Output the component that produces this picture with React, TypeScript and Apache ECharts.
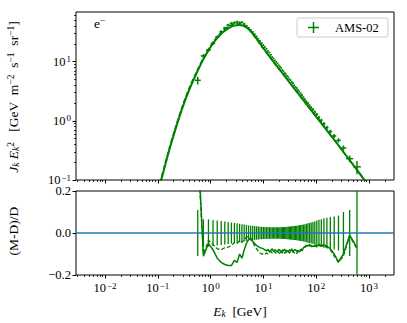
import React, { useEffect, useRef } from "react";
import * as echarts from "echarts";

// ---------- data ----------
// AMS-02 electron energy bins [GeV]
const binEdges = [0.5, 0.65, 0.82, 1.01, 1.22, 1.46, 1.72, 2.0, 2.31, 2.65, 3.0, 3.36, 3.73, 4.12, 4.54, 5.0, 5.49, 6.0, 6.54, 7.1, 7.69, 8.3, 8.95, 9.62, 10.32, 11.04, 11.8, 12.59, 13.41, 14.25, 15.14, 16.05, 17.0, 17.98, 18.99, 20.04, 21.13, 22.25, 23.42, 24.62, 25.9, 27.25, 28.68, 30.21, 31.82, 33.53, 35.36, 37.31, 39.39, 41.61, 44.0, 46.57, 49.33, 52.33, 55.58, 59.13, 63.02, 67.3, 72.05, 77.37, 83.36, 90.19, 98.08, 107.3, 118.3, 131.7, 148.8, 170.6, 200.0, 240.0, 290.0, 370.0, 500.0, 700.0];
// J_k E_k^2 [GeV m^-2 s^-1 sr^-1]
const fluxAMS = [4.83, 12.5, 15.7, 20.4, 26.0, 31.9, 36.9, 41.3, 44.3, 45.5, 47.0, 45.6, 46.1, 43.4, 40.3, 37.2, 34.2, 31.6, 28.9, 26.5, 24.4, 22.4, 20.6, 19.0, 17.6, 16.4, 15.1, 14.2, 13.1, 12.0, 11.3, 10.48, 9.88, 9.33, 8.68, 8.21, 7.85, 7.27, 6.91, 6.47, 6.18, 5.78, 5.49, 5.13, 4.86, 4.51, 4.32, 3.99, 3.75, 3.55, 3.30, 3.12, 2.89, 2.71, 2.49, 2.30, 2.12, 1.98, 1.82, 1.68, 1.56, 1.41, 1.28, 1.13, 1.016, 0.888, 0.769, 0.658, 0.554, 0.468, 0.348, 0.229, 0.167];
// relative flux uncertainty drawn in the upper panel
const fluxRelErr = [0.15, 0.07, 0.065, 0.062, 0.06, 0.057, 0.055, 0.052, 0.05, 0.048, 0.046, 0.044, 0.042, 0.04, 0.038, 0.036, 0.035, 0.034, 0.033, 0.032, 0.031, 0.03, 0.03, 0.029, 0.029, 0.028, 0.028, 0.028, 0.027, 0.027, 0.027, 0.027, 0.027, 0.027, 0.027, 0.027, 0.028, 0.028, 0.028, 0.029, 0.029, 0.03, 0.03, 0.031, 0.031, 0.032, 0.033, 0.033, 0.034, 0.035, 0.036, 0.037, 0.038, 0.039, 0.04, 0.042, 0.044, 0.046, 0.048, 0.05, 0.052, 0.055, 0.06, 0.063, 0.066, 0.07, 0.073, 0.076, 0.079, 0.083, 0.1, 0.13, 0.25];
// relative uncertainty sigma/D drawn in the residual panel
const relErr = [0.11, 0.065, 0.065, 0.062, 0.06, 0.057, 0.055, 0.052, 0.05, 0.048, 0.046, 0.044, 0.042, 0.04, 0.038, 0.036, 0.035, 0.034, 0.033, 0.032, 0.031, 0.03, 0.03, 0.029, 0.029, 0.028, 0.028, 0.028, 0.027, 0.027, 0.027, 0.027, 0.027, 0.027, 0.027, 0.027, 0.028, 0.028, 0.028, 0.029, 0.029, 0.03, 0.03, 0.031, 0.031, 0.032, 0.033, 0.033, 0.034, 0.035, 0.036, 0.037, 0.038, 0.039, 0.04, 0.042, 0.044, 0.046, 0.048, 0.05, 0.052, 0.055, 0.06, 0.063, 0.066, 0.07, 0.073, 0.076, 0.079, 0.083, 0.1, 0.11, 0.5];
// (M-D)/D residuals
const resSolid = [0.45, -0.11, -0.05, -0.08, -0.12, -0.14, -0.15, -0.155, -0.155, -0.13, -0.14, -0.10, -0.12, -0.08, -0.05, -0.03, -0.025, -0.04, -0.05, -0.06, -0.065, -0.07, -0.072, -0.075, -0.08, -0.085, -0.078, -0.09, -0.082, -0.075, -0.088, -0.08, -0.085, -0.09, -0.078, -0.082, -0.095, -0.08, -0.085, -0.077, -0.088, -0.083, -0.09, -0.08, -0.086, -0.075, -0.092, -0.081, -0.079, -0.088, -0.083, -0.09, -0.078, -0.085, -0.07, -0.065, -0.058, -0.062, -0.055, -0.06, -0.065, -0.058, -0.062, -0.055, -0.06, -0.057, -0.063, -0.075, -0.10, -0.137, -0.10, -0.01, -0.07];
const resDashed = [0.38, -0.10, -0.035, -0.055, -0.075, -0.08, -0.07, -0.068, -0.06, -0.045, -0.05, -0.035, -0.045, -0.03, -0.02, -0.018, -0.03, -0.045, -0.06, -0.075, -0.085, -0.095, -0.1, -0.098, -0.102, -0.095, -0.1, -0.092, -0.088, -0.095, -0.085, -0.092, -0.098, -0.087, -0.093, -0.1, -0.09, -0.095, -0.086, -0.097, -0.091, -0.094, -0.088, -0.096, -0.089, -0.093, -0.087, -0.095, -0.09, -0.098, -0.086, -0.092, -0.08, -0.075, -0.07, -0.068, -0.062, -0.066, -0.06, -0.064, -0.068, -0.062, -0.066, -0.06, -0.064, -0.062, -0.068, -0.08, -0.11, -0.14, -0.11, -0.015, -0.075];
// model curves
const modelE = [0.1, 0.116, 0.166, 0.223, 0.297, 0.40, 0.535, 0.71, 0.95, 1.27, 1.70, 2.2, 2.8, 3.5, 4.2, 5.0, 6.0, 7.5, 10, 13, 16, 22, 30, 42, 60, 87, 120, 170, 250, 350, 500, 700, 900, 1200];
const modelSolid = [0.062, 0.10, 0.327, 0.79, 1.72, 3.45, 6.2, 10.5, 16.5, 23.7, 31.2, 36.9, 40.5, 41.6, 40.4, 36.7, 31.2, 24.1, 16.8, 12.3, 9.6, 6.7, 4.68, 3.18, 2.11, 1.37, 0.95, 0.64, 0.41, 0.275, 0.181, 0.121, 0.089, 0.063];
const modelDashed = [0.067, 0.108, 0.353, 0.85, 1.86, 3.72, 6.6, 11.0, 17.2, 24.9, 33.2, 39.5, 43.0, 43.5, 41.8, 37.3, 30.8, 23.5, 16.4, 12.1, 9.5, 6.65, 4.65, 3.16, 2.1, 1.37, 0.95, 0.64, 0.41, 0.275, 0.181, 0.121, 0.089, 0.063];
// axes
const xRangeGeV = [0.00282, 2972];
const yRangeTop = [0.1, 68.9];
const xTickExps = [-2, -1, 0, 1, 2, 3];
const yTickExps = [-1, 0, 1];
const resRange = [-0.2, 0.2];
const resTicks = [-0.2, 0, 0.2];

// ---------- styling ----------
const GREEN = "#008000";
const BLUE = "#1f77b4";
const FONT = '"Liberation Serif", "DejaVu Serif", serif';

const lg = Math.log10;

function minorTicks(lo: number, hi: number): number[] {
  const out: number[] = [];
  for (let n = Math.floor(lo) - 1; n <= Math.ceil(hi); n++) {
    for (let k = 2; k <= 9; k++) {
      const v = n + lg(k);
      if (v >= lo && v <= hi) out.push(v);
    }
  }
  return out;
}

const tickRich: any = {
  b: { fontFamily: FONT, fontSize: 12.5, color: "#000", lineHeight: 14 },
  s: { fontFamily: FONT, fontSize: 9, color: "#000", lineHeight: 6, verticalAlign: "top", padding: [0, 0, 0, 1] },
};
const fmtPow = (v: number) => {
  const e = Math.round(v);
  return `{b|10}{s|${e < 0 ? "\u2212" + -e : e}}`;
};

const textRich: any = {
  r: { fontFamily: FONT, fontSize: 13.5, fill: "#000", lineHeight: 15 },
  i: { fontFamily: FONT, fontSize: 13.5, fontStyle: "italic", fill: "#000", lineHeight: 15 },
  sub: { fontFamily: FONT, fontSize: 9.5, fontStyle: "italic", fill: "#000", lineHeight: 9, verticalAlign: "bottom" },
  sup: { fontFamily: FONT, fontSize: 9.5, fill: "#000", lineHeight: 6, verticalAlign: "top" },
};

// value layout: [x, y, yLow, yHigh, xLow, xHigh]
function errRender(lw: number) {
  return (params: any, api: any) => {
    const x = api.value(0);
    const y = api.value(1);
    const p = api.coord([x, y]);
    const pl = api.coord([x, api.value(2)]);
    const ph = api.coord([x, api.value(3)]);
    const style = { stroke: GREEN, lineWidth: lw };
    const children: any[] = [
      { type: "line", shape: { x1: p[0], y1: ph[1], x2: p[0], y2: pl[1] }, style },
    ];
    const xl = api.value(4);
    const xh = api.value(5);
    if (xh > xl) {
      const a = api.coord([xl, y]);
      const b = api.coord([xh, y]);
      children.push({ type: "line", shape: { x1: a[0], y1: p[1], x2: b[0], y2: p[1] }, style });
    }
    return { type: "group", children };
  };
}

export default function App() {
  const ref = useRef<HTMLDivElement>(null);
  useEffect(() => {
    document.body.style.margin = "0";
    if (!ref.current) return;
    const chart = echarts.init(ref.current, null, { renderer: "svg" });

    const xMin = lg(xRangeGeV[0]);
    const xMax = lg(xRangeGeV[1]);
    const yMin = lg(yRangeTop[0]);
    const yMax = lg(yRangeTop[1]);

    const centers = fluxAMS.map((_, i) => Math.sqrt(binEdges[i] * binEdges[i + 1]));
    const dataTop = fluxAMS.map((d, i) => [
      lg(centers[i]), lg(d), lg(d * (1 - fluxRelErr[i])), lg(d * (1 + fluxRelErr[i])), lg(binEdges[i]), lg(binEdges[i + 1]),
    ]);
    const dataRes = relErr.map((e, i) => [lg(centers[i]), 0, -e, e, 0, 0]);

    const noLine = { show: false, onZero: false };
    const baseX = (gridIndex: number) => ({
      type: "value",
      gridIndex,
      min: xMin,
      max: xMax,
      position: "bottom",
      axisLine: noLine,
      splitLine: { show: false },
      axisLabel: { show: false },
      axisTick: { show: false },
    });
    const majorTick = { show: true, customValues: xTickExps, length: 3.5, lineStyle: { color: "#000", width: 1 } };
    const minorTickX = { show: true, customValues: minorTicks(xMin, xMax), length: 2, lineStyle: { color: "#000", width: 0.8 } };

    const option: any = {
      animation: false,
      grid: [
        { left: 76, top: 12, width: 318, height: 168, show: true, borderColor: "#000", borderWidth: 1, backgroundColor: "transparent" },
        { left: 76, top: 191, width: 318, height: 84, show: true, borderColor: "#000", borderWidth: 1, backgroundColor: "transparent" },
        { left: 76, top: 12, width: 318, height: 168 },
        { left: 76, top: 191, width: 318, height: 84 },
      ],
      xAxis: [
        { ...baseX(0), axisTick: majorTick },
        {
          ...baseX(1),
          axisTick: majorTick,
          axisLabel: { show: true, customValues: xTickExps, formatter: fmtPow, rich: tickRich, margin: 6 },
        },
        { ...baseX(2), axisTick: minorTickX },
        { ...baseX(3), axisTick: minorTickX },
      ],
      yAxis: [
        {
          type: "value", gridIndex: 0, min: yMin, max: yMax, position: "left",
          axisLine: noLine, splitLine: { show: false },
          axisTick: { show: true, customValues: yTickExps, length: 3.5, lineStyle: { color: "#000", width: 1 } },
          axisLabel: { show: true, customValues: yTickExps, formatter: fmtPow, rich: tickRich, margin: 5 },
        },
        {
          type: "value", gridIndex: 1, min: resRange[0], max: resRange[1], position: "left",
          axisLine: noLine, splitLine: { show: false },
          axisTick: { show: true, customValues: resTicks, length: 3.5, lineStyle: { color: "#000", width: 1 } },
          axisLabel: {
            show: true, customValues: resTicks, margin: 5, color: "#000", fontFamily: FONT, fontSize: 12.5,
            formatter: (v: number) => (Math.abs(v) < 1e-9 ? "0.0" : (v < 0 ? "\u2212" : "") + Math.abs(v).toFixed(1)),
          },
        },
        {
          type: "value", gridIndex: 2, min: yMin, max: yMax, position: "left",
          axisLine: noLine, splitLine: { show: false }, axisLabel: { show: false },
          axisTick: { show: true, customValues: minorTicks(yMin, yMax), length: 2, lineStyle: { color: "#000", width: 0.8 } },
        },
        { type: "value", gridIndex: 3, min: resRange[0], max: resRange[1], show: false, axisLine: noLine },
      ],
      series: [
        {
          type: "line", xAxisIndex: 0, yAxisIndex: 0, z: 3, clip: true, showSymbol: false, smooth: 0.3,
          data: modelE.map((e, i) => [lg(e), lg(modelSolid[i])]),
          lineStyle: { color: GREEN, width: 2 },
        },
        {
          type: "line", xAxisIndex: 0, yAxisIndex: 0, z: 3, clip: true, showSymbol: false, smooth: 0.3,
          data: modelE.map((e, i) => [lg(e), lg(modelDashed[i])]),
          lineStyle: { color: GREEN, width: 1.5, type: [5, 2] },
        },
        {
          type: "custom", name: "AMS-02", xAxisIndex: 0, yAxisIndex: 0, z: 4, clip: true,
          renderItem: errRender(1.5),
          encode: { x: 0, y: 1 },
          data: dataTop,
        },
        {
          type: "line", xAxisIndex: 1, yAxisIndex: 1, z: 2, clip: true, showSymbol: false,
          data: [], lineStyle: { width: 0 },
          markLine: {
            silent: true, symbol: "none", label: { show: false },
            lineStyle: { color: BLUE, width: 1.5, type: "solid" },
            data: [{ yAxis: 0 }],
          },
        },
        {
          type: "custom", xAxisIndex: 1, yAxisIndex: 1, z: 4, clip: true,
          renderItem: errRender(1.3),
          encode: { x: 0, y: 1 },
          data: dataRes,
        },
        {
          type: "line", xAxisIndex: 1, yAxisIndex: 1, z: 5, clip: true, showSymbol: false,
          data: resSolid.map((r, i) => [lg(centers[i]), r]),
          lineStyle: { color: GREEN, width: 1.5 },
        },
        {
          type: "line", xAxisIndex: 1, yAxisIndex: 1, z: 5, clip: true, showSymbol: false,
          data: resDashed.map((r, i) => [lg(centers[i]), r]),
          lineStyle: { color: GREEN, width: 1.3, type: [4, 2] },
        },
      ],
      graphic: [
        {
          type: "text", x: 13, y: 97, rotation: Math.PI / 2, z: 10,
          style: {
            text: "{i|J}{sub|k}{i| E}{sub|k}{sup|2}{r|   [GeV  m}{sup|\u22122}{r|  s}{sup|\u22121}{r|  sr}{sup|\u22121}{r|]}",
            rich: textRich, align: "center", verticalAlign: "middle", fontFamily: FONT, fontSize: 13.5, fill: "#000",
          },
        },
        {
          type: "text", x: 13, y: 231, rotation: Math.PI / 2, z: 10,
          style: { text: "{r|(M-D)/D}", rich: textRich, align: "center", verticalAlign: "middle", fontFamily: FONT, fontSize: 13.5, fill: "#000" },
        },
        {
          type: "text", x: 240, y: 311, z: 10,
          style: { text: "{i|E}{sub|k}{r|  [GeV]}", rich: textRich, align: "center", verticalAlign: "middle", fontFamily: FONT, fontSize: 13.5, fill: "#000" },
        },
        {
          type: "text", x: 94, y: 23, z: 10,
          style: { text: "{r|e}{sup|\u2212}", rich: textRich, align: "left", verticalAlign: "middle", fontFamily: FONT, fontSize: 13.5, fill: "#000" },
        },
        {
          type: "group", z: 10,
          children: [
            { type: "rect", shape: { x: 297, y: 18, width: 91, height: 19, r: 2 }, style: { fill: "rgba(255,255,255,0.8)", stroke: "#cccccc", lineWidth: 1 } },
            { type: "line", shape: { x1: 308, y1: 27.5, x2: 319, y2: 27.5 }, style: { stroke: GREEN, lineWidth: 1.5 } },
            { type: "line", shape: { x1: 313.5, y1: 22, x2: 313.5, y2: 33 }, style: { stroke: GREEN, lineWidth: 1.5 } },
            { type: "text", x: 335, y: 28, style: { text: "AMS-02", fontFamily: FONT, fontSize: 12.5, fill: "#000", align: "left", verticalAlign: "middle" } },
          ],
        },
      ],
    };
    chart.setOption(option);
    return () => chart.dispose();
  }, []);
  return <div ref={ref} style={{ width: 407, height: 323 }} />;
}
